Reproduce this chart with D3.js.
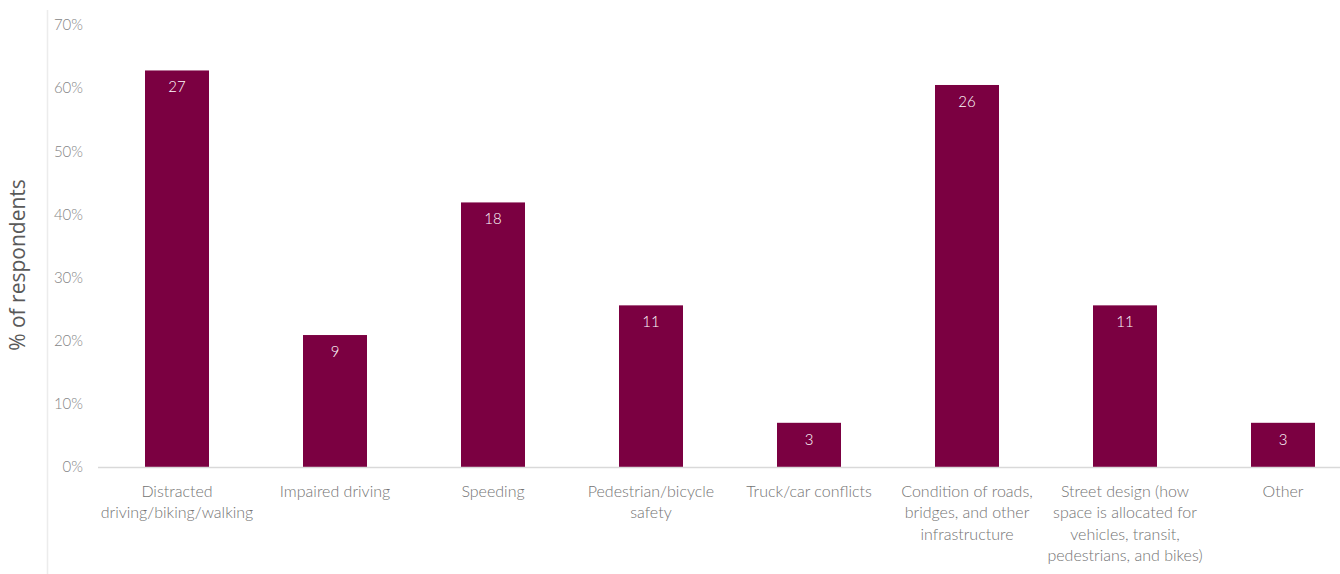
<!DOCTYPE html>
<html><head><meta charset="utf-8">
<script src="https://cdn.jsdelivr.net/npm/d3@7"></script>
<style>html,body{margin:0;padding:0;background:#fff;}svg{display:block;}</style>
</head><body>
<svg id="chart" width="1340" height="574"></svg>
<script>
const categories = [
  ["Distracted", "driving/biking/walking"],
  ["Impaired driving"],
  ["Speeding"],
  ["Pedestrian/bicycle", "safety"],
  ["Truck/car conflicts"],
  ["Condition of roads,", "bridges, and other", "infrastructure"],
  ["Street design (how", "space is allocated for", "vehicles, transit,", "pedestrians, and bikes)"],
  ["Other"]
];
const percentValues = [62.8, 20.9, 41.9, 25.6, 7.0, 60.5, 25.6, 7.0];
const countLabels = ["27", "9", "18", "11", "3", "26", "11", "3"];
const tickValues = [0, 10, 20, 30, 40, 50, 60, 70];
const yTitle = "% of respondents";

const svg = d3.select("#chart");
const keys = categories.map((c, i) => i);
const x = d3.scaleBand().domain(keys).range([98, 1362]).paddingInner(0.595).paddingOuter(0.2975);
const y = d3.scaleLinear().domain([0, 70]).range([467, 25]);
const font = "Lato, 'Open Sans', sans-serif";

// left border line
svg.append("line").attr("x1", 47.5).attr("x2", 47.5).attr("y1", 10).attr("y2", 574)
  .attr("stroke", "#ececec").attr("stroke-width", 1.5);

// y axis
const yAxis = d3.axisLeft(y).tickValues(tickValues).tickFormat(d => d + "%").tickSize(0).tickPadding(0);
const yg = svg.append("g").attr("transform", "translate(83,0)").call(yAxis);
yg.select(".domain").remove();
yg.selectAll("text").attr("fill", "#858585").style("font-family", font).style("font-weight", "300").style("font-size", "15px");

// bars
svg.append("g").selectAll("rect").data(percentValues).join("rect")
  .attr("x", (d, i) => x(i)).attr("width", x.bandwidth())
  .attr("y", d => y(d)).attr("height", d => y(0) - y(d))
  .attr("fill", "#7b0041");

// value labels
svg.append("g").selectAll("text").data(percentValues).join("text")
  .attr("x", (d, i) => x(i) + x.bandwidth() / 2).attr("y", d => y(d) + 22)
  .attr("text-anchor", "middle").attr("fill", "#fff")
  .style("font-family", font).style("font-weight", "300").style("font-size", "15px")
  .text((d, i) => countLabels[i]);

// baseline
svg.append("line").attr("x1", 98).attr("x2", 1340).attr("y1", y(0) + 0.5).attr("y2", y(0) + 0.5)
  .attr("stroke", "#d9d9d9").attr("stroke-width", 1.5);

// x axis labels
const xg = svg.append("g");
categories.forEach((lines, i) => {
  const t = xg.append("text").attr("text-anchor", "middle")
    .attr("fill", "#737373").style("font-family", font).style("font-weight", "300").style("font-size", "16px");
  lines.forEach((ln, j) => {
    t.append("tspan").attr("x", x(i) + x.bandwidth() / 2).attr("y", 497 + j * 21.3).text(ln);
  });
});

// y title
svg.append("text").attr("transform", "translate(25,265) rotate(-90)")
  .attr("text-anchor", "middle").attr("fill", "#595959")
  .style("font-family", "'Open Sans', sans-serif").style("font-size", "21px")
  .text(yTitle);
</script>
</body></html>
